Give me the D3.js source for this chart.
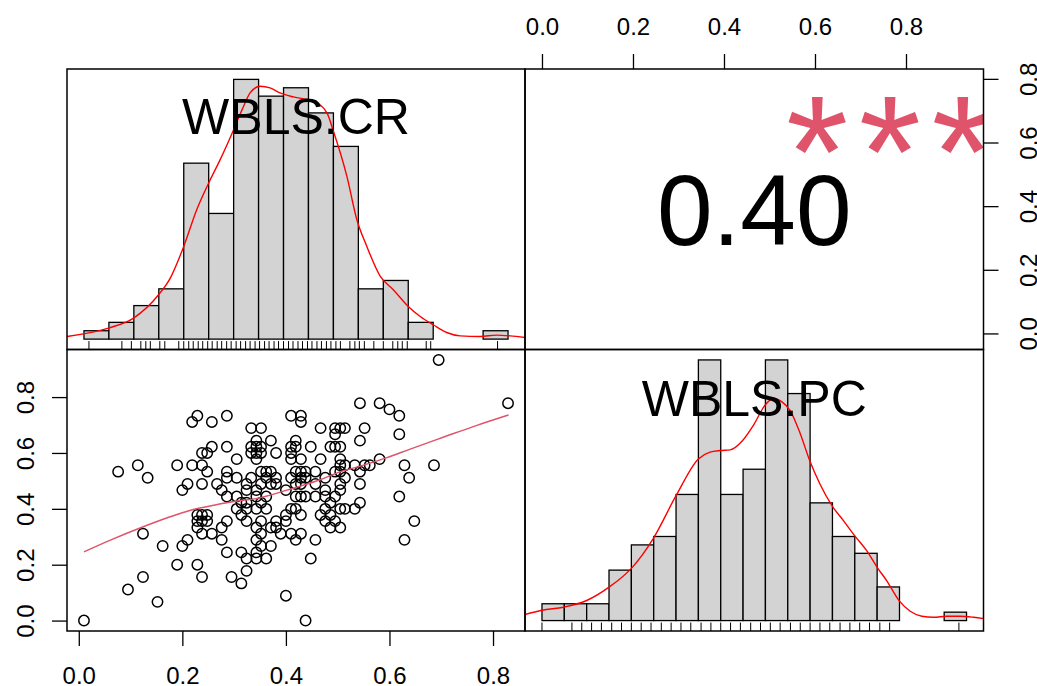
<!DOCTYPE html>
<html>
<head>
<meta charset="utf-8">
<script src="https://cdn.jsdelivr.net/npm/d3@7"></script>
<style>
  body { margin: 0; background: #fff; }
  svg { display: block; font-family: "Liberation Sans", Arial, Helvetica, sans-serif; }
</style>
</head>
<body>
<div id="chart"></div>
<script>
// variable names
const varNames = ['WBLS.CR', 'WBLS.PC'];
const corrText = '0.40';
const starsText = '***';
const tickVals = [0, 0.2, 0.4, 0.6, 0.8];

// histogram of WBLS.CR (counts per 0.05 bin)
const crBreaks = [0, 0.05, 0.1, 0.15, 0.2, 0.25, 0.3, 0.35, 0.4, 0.45, 0.5, 0.55, 0.6, 0.65, 0.7, 0.75, 0.8, 0.85];
const crCounts = [1, 2, 4, 6, 21, 15, 31, 29, 30, 27, 23, 6, 7, 2, 0, 0, 1];
// histogram of WBLS.PC
const pcBreaks = [0, 0.05, 0.1, 0.15, 0.2, 0.25, 0.3, 0.35, 0.4, 0.45, 0.5, 0.55, 0.6, 0.65, 0.7, 0.75, 0.8, 0.85, 0.9, 0.95];
const pcCounts = [2, 2, 2, 6, 9, 10, 15, 31, 15, 18, 31, 27, 14, 10, 8, 4, 0, 0, 1];

// kernel density curves
const crDensX = [-0.034, 0.049, 0.0995, 0.1495, 0.173, 0.200, 0.226, 0.250, 0.273, 0.300, 0.317, 0.333, 0.353, 0.373, 0.393, 0.420, 0.460, 0.487, 0.500, 0.527, 0.547, 0.567, 0.594, 0.620, 0.650, 0.674, 0.700, 0.727, 0.754, 0.794, 0.827, 0.854, 0.884];
const crDensY = [0.031, 0.128, 0.245, 0.516, 0.711, 1.079, 1.507, 1.818, 2.090, 2.439, 2.672, 2.867, 2.944, 2.925, 2.867, 2.820, 2.769, 2.634, 2.420, 1.895, 1.390, 1.079, 0.730, 0.575, 0.380, 0.263, 0.167, 0.077, 0.038, 0.030, 0.047, 0.038, 0.019];
const pcDensX = [-0.038, 0.0, 0.048, 0.100, 0.150, 0.200, 0.249, 0.300, 0.350, 0.376, 0.399, 0.421, 0.449, 0.473, 0.499, 0.518, 0.537, 0.555, 0.578, 0.599, 0.622, 0.650, 0.675, 0.700, 0.727, 0.750, 0.772, 0.800, 0.824, 0.850, 0.876, 0.906, 0.936, 0.966, 0.988];
const pcDensY = [0.070, 0.120, 0.155, 0.233, 0.388, 0.606, 0.952, 1.449, 1.876, 1.954, 1.973, 1.981, 2.090, 2.265, 2.498, 2.576, 2.537, 2.440, 2.168, 1.857, 1.585, 1.325, 1.157, 0.983, 0.808, 0.618, 0.458, 0.225, 0.108, 0.050, 0.038, 0.050, 0.050, 0.038, 0.023];

// scatter: WBLS.PC levels and the WBLS.CR values on each level
const pcRows = [0.933, 0.778, 0.756, 0.733, 0.711, 0.689, 0.667, 0.644, 0.622, 0.600, 0.578, 0.556, 0.533, 0.511, 0.489, 0.467, 0.444, 0.422, 0.400, 0.378, 0.356, 0.333, 0.311, 0.289, 0.267, 0.244, 0.222, 0.200, 0.178, 0.156, 0.133, 0.111, 0.089, 0.067, 0];
const crByRow = [
  [0.695],
  [0.543, 0.581, 0.829],
  [0.600],
  [0.229, 0.286, 0.410, 0.429, 0.619],
  [0.219, 0.257, 0.429],
  [0.333, 0.352, 0.467, 0.495, 0.505, 0.514, 0.552],
  [0.495, 0.619],
  [0.343, 0.371, 0.419, 0.543],
  [0.257, 0.286, 0.333, 0.343, 0.352, 0.410, 0.419, 0.448, 0.486, 0.495, 0.505],
  [0.238, 0.248, 0.333, 0.343, 0.352, 0.381, 0.410],
  [0.305, 0.343, 0.410, 0.429, 0.467, 0.505, 0.581],
  [0.114, 0.190, 0.219, 0.238, 0.505, 0.514, 0.533, 0.552, 0.562, 0.629, 0.686],
  [0.076, 0.248, 0.286, 0.352, 0.362, 0.371, 0.419, 0.429, 0.438, 0.457, 0.495, 0.505, 0.543],
  [0.133, 0.286, 0.305, 0.333, 0.362, 0.381, 0.410, 0.429, 0.438, 0.476, 0.514, 0.638],
  [0.210, 0.238, 0.267, 0.324, 0.352, 0.371, 0.381, 0.419, 0.429, 0.457, 0.505, 0.543],
  [0.200, 0.276, 0.324, 0.343, 0.400, 0.476, 0.505],
  [0.286, 0.305, 0.343, 0.362, 0.419, 0.429, 0.438, 0.457, 0.476, 0.495, 0.619],
  [0.314, 0.324, 0.352, 0.486, 0.543],
  [0.305, 0.324, 0.343, 0.362, 0.410, 0.419, 0.476, 0.505, 0.514, 0.533],
  [0.229, 0.238, 0.248, 0.314, 0.400, 0.429, 0.467, 0.486],
  [0.229, 0.238, 0.248, 0.286, 0.324, 0.352, 0.381, 0.400, 0.476, 0.495, 0.648],
  [0.229, 0.276, 0.343, 0.371, 0.381, 0.486, 0.505],
  [0.124, 0.238, 0.257, 0.352, 0.390, 0.410, 0.429],
  [0.210, 0.276, 0.343, 0.419, 0.457, 0.629],
  [0.162, 0.200, 0.352, 0.371],
  [0.286, 0.314, 0.343],
  [0.324, 0.343, 0.362, 0.448],
  [0.190, 0.229],
  [0.324],
  [0.124, 0.238, 0.295],
  [0.314],
  [0.095],
  [0.400],
  [0.152],
  [0.010, 0.438]
];

// loess smoother through the scatter
const smoothX = [0.010, 0.061, 0.122, 0.171, 0.216, 0.261, 0.306, 0.344, 0.370, 0.402, 0.428, 0.467, 0.499, 0.544, 0.595, 0.640, 0.705, 0.769, 0.830];
const smoothY = [0.246, 0.288, 0.334, 0.368, 0.395, 0.413, 0.428, 0.437, 0.449, 0.467, 0.481, 0.505, 0.529, 0.553, 0.583, 0.614, 0.657, 0.699, 0.736];

// ---------------------------------------------------------------
const W = 1037, H = 686;
const X0 = 67, XM = 525, X1 = 983.5;   // column edges
const Y0 = 69, YM = 349.5, Y1 = 631;   // row edges
const pink = '#DF536B';

const points = [];
pcRows.forEach((pc, i) => crByRow[i].forEach(cr => points.push({ cr, pc })));

const svg = d3.select('#chart').append('svg').attr('width', W).attr('height', H);

const defs = svg.append('defs');
[['clipTL', X0, Y0, XM, YM], ['clipTR', XM, Y0, X1, YM], ['clipBL', X0, YM, XM, Y1], ['clipBR', XM, YM, X1, Y1]]
  .forEach(([id, a, b, c, d]) => {
    defs.append('clipPath').attr('id', id)
      .append('rect').attr('x', a).attr('y', b).attr('width', c - a).attr('height', d - b);
  });

// scales of the pairs grid (data range padded by 4%)
const pad = (lo, hi) => [lo - 0.04 * (hi - lo), hi + 0.04 * (hi - lo)];
const crAll = points.map(d => d.cr), pcAll = points.map(d => d.pc);
const xCR = d3.scaleLinear().domain(pad(d3.min(crAll), d3.max(crAll))).range([X0, XM]);
const yPC = d3.scaleLinear().domain(pad(d3.min(pcAll), d3.max(pcAll))).range([Y1, YM]);
const xPC = d3.scaleLinear().domain(pad(d3.min(pcAll), d3.max(pcAll))).range([XM, X1]);
const yCR = d3.scaleLinear().domain([-0.0505, 0.831]).range([YM, Y0]);

// histogram panel
function histPanel(breaks, counts, densX, densY, rugVals, left, right, top, bottom, clipId, label, labelBase) {
  const g = svg.append('g');
  const n = d3.sum(counts);
  const w = breaks[1] - breaks[0];
  const dens = counts.map(c => c / (n * w));
  const maxD = d3.max(dens);
  const xs = d3.scaleLinear().domain(pad(breaks[0], breaks[breaks.length - 1])).range([left, right]);
  const ys = d3.scaleLinear().domain([-0.04 * maxD, 1.04 * maxD]).range([bottom, top]);

  g.selectAll('rect.bar')
    .data(dens)
    .join('rect')
    .attr('class', 'bar')
    .attr('x', (d, i) => xs(breaks[i]))
    .attr('width', (d, i) => xs(breaks[i + 1]) - xs(breaks[i]))
    .attr('y', d => ys(d))
    .attr('height', d => ys(0) - ys(d))
    .attr('fill', '#D3D3D3')
    .attr('stroke', '#000')
    .attr('stroke-width', 1.3);

  g.append('path')
    .datum(densX.map((x, i) => [x, densY[i]]))
    .attr('clip-path', `url(#${clipId})`)
    .attr('d', d3.line().x(d => xs(d[0])).y(d => ys(d[1])).curve(d3.curveMonotoneX))
    .attr('fill', 'none')
    .attr('stroke', '#FF0000')
    .attr('stroke-width', 1.4);

  // rug along the bottom edge
  const rugLen = 0.03 * (bottom - top);
  g.selectAll('line.rug')
    .data(Array.from(new Set(rugVals)))
    .join('line')
    .attr('class', 'rug')
    .attr('x1', d => xs(d)).attr('x2', d => xs(d))
    .attr('y1', bottom).attr('y2', bottom - rugLen)
    .attr('stroke', '#000')
    .attr('stroke-width', 1);

  g.append('text')
    .attr('x', (left + right) / 2)
    .attr('y', labelBase)
    .attr('text-anchor', 'middle')
    .attr('font-size', 50)
    .text(label);
}

histPanel(crBreaks, crCounts, crDensX, crDensY, crAll, X0, XM, Y0, YM, 'clipTL', varNames[0], 134);
histPanel(pcBreaks, pcCounts, pcDensX, pcDensY, pcAll, XM, X1, YM, Y1, 'clipBR', varNames[1], 415.5);

// scatter panel
const sg = svg.append('g').attr('clip-path', 'url(#clipBL)');
sg.selectAll('circle')
  .data(points)
  .join('circle')
  .attr('cx', d => xCR(d.cr))
  .attr('cy', d => yPC(d.pc))
  .attr('r', 5.2)
  .attr('fill', 'none')
  .attr('stroke', '#000')
  .attr('stroke-width', 1.5);

sg.append('path')
  .datum(smoothX.map((x, i) => [x, smoothY[i]]))
  .attr('d', d3.line().x(d => xCR(d[0])).y(d => yPC(d[1])).curve(d3.curveMonotoneX))
  .attr('fill', 'none')
  .attr('stroke', pink)
  .attr('stroke-width', 1.4);

// correlation panel
svg.append('text')
  .attr('x', (XM + X1) / 2)
  .attr('y', 245)
  .attr('text-anchor', 'middle')
  .attr('font-size', 100)
  .text(corrText);

const starSpacing = 10.5;
svg.append('text')
  .attr('clip-path', 'url(#clipTR)')
  .attr('x', XM + 0.8 * (X1 - XM))
  .attr('dx', starSpacing / 2 - 2)
  .attr('y', 207)
  .attr('text-anchor', 'middle')
  .attr('font-size', 160)
  .attr('letter-spacing', starSpacing)
  .attr('fill', pink)
  .text(starsText);

// panel boxes
[[X0, Y0, XM, YM], [XM, Y0, X1, YM], [X0, YM, XM, Y1], [XM, YM, X1, Y1]].forEach(([a, b, c, d]) => {
  svg.append('rect')
    .attr('x', a).attr('y', b).attr('width', c - a).attr('height', d - b)
    .attr('fill', 'none').attr('stroke', '#000').attr('stroke-width', 1.5);
});

// axes
const fmt = d3.format('.1f');
function styleAxis(g) {
  g.select('.domain').remove();
  g.selectAll('.tick line').attr('stroke', '#000').attr('stroke-width', 1.3);
  g.selectAll('.tick text').attr('fill', '#000').attr('font-size', 24)
    .attr('font-family', '"Liberation Sans", Arial, Helvetica, sans-serif');
}

svg.append('g').attr('transform', `translate(0,${Y1})`)
  .call(d3.axisBottom(xCR).tickValues(tickVals).tickFormat(fmt).tickSize(15).tickSizeOuter(0))
  .call(styleAxis)
  .call(g => g.selectAll('.tick text').attr('y', 52.5).attr('dy', 0));

svg.append('g').attr('transform', `translate(0,${Y0})`)
  .call(d3.axisTop(xPC).tickValues(tickVals).tickFormat(fmt).tickSize(15).tickSizeOuter(0))
  .call(styleAxis)
  .call(g => g.selectAll('.tick text').attr('y', -34.5).attr('dy', 0));

svg.append('g').attr('transform', `translate(${X0},0)`)
  .call(d3.axisLeft(yPC).tickValues(tickVals).tickFormat(fmt).tickSize(15).tickSizeOuter(0))
  .call(styleAxis)
  .call(g => g.selectAll('.tick text')
    .attr('x', 0).attr('y', 0).attr('dy', 0)
    .attr('text-anchor', 'middle')
    .attr('transform', 'translate(-33.5,0) rotate(-90)'));

svg.append('g').attr('transform', `translate(${X1},0)`)
  .call(d3.axisRight(yCR).tickValues(tickVals).tickFormat(fmt).tickSize(15).tickSizeOuter(0))
  .call(styleAxis)
  .call(g => g.selectAll('.tick text')
    .attr('x', 0).attr('y', 0).attr('dy', 0)
    .attr('text-anchor', 'middle')
    .attr('transform', 'translate(53,0) rotate(-90)'));
</script>
</body>
</html>
